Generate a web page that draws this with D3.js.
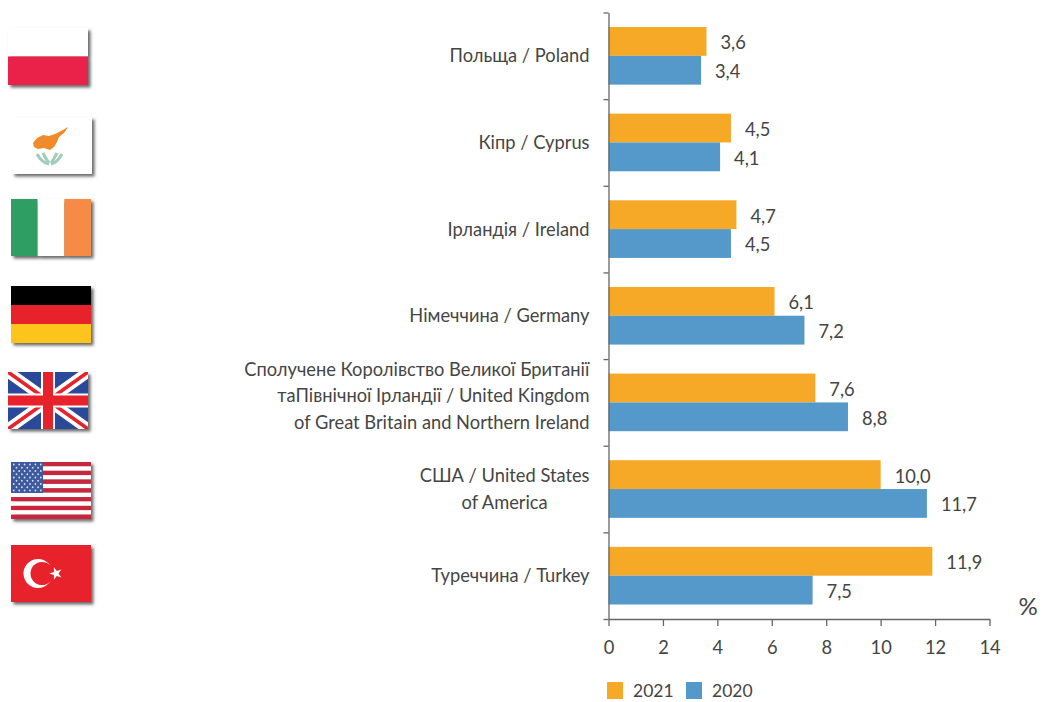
<!DOCTYPE html>
<html>
<head>
<meta charset="utf-8">
<script src="https://cdn.jsdelivr.net/npm/d3@7"></script>
<style>
html, body { margin: 0; padding: 0; background: #fff; }
svg { display: block; }
text { font-family: Lato, "Open Sans", sans-serif; fill: #454545; font-size: 18.3px; }
</style>
</head>
<body>
<svg></svg>
<script>
var width = 1058;
var height = 702;

var countries = ["Poland", "Cyprus", "Ireland", "Germany", "UK", "USA", "Turkey"];
var labels = [
    ["Польща / Poland"],
    ["Кіпр / Cyprus"],
    ["Ірландія / Ireland"],
    ["Німеччина / Germany"],
    ["Сполучене Королівство Великої Британії", "таПівнічної Ірландії / United Kingdom", "of Great Britain and Northern Ireland"],
    ["США / United States", "of America"],
    ["Туреччина / Turkey"]
];
var values2021 = [3.6, 4.5, 4.7, 6.1, 7.6, 10.0, 11.9];
var values2020 = [3.4, 4.1, 4.5, 7.2, 8.8, 11.7, 7.5];
var years = ["2021", "2020"];
var yearColors = ["#f5a926", "#5599cb"];
var xTicks = [0, 2, 4, 6, 8, 10, 12, 14];

var margin = { top: 12.5, left: 608.5, right: 68.5, bottom: 83 };
var innerW = width - margin.left - margin.right;
var innerH = height - margin.top - margin.bottom;

var svg = d3.select("svg")
            .attr("width", width)
            .attr("height", height);

var defs = svg.append("defs");
var shadow = defs.append("filter")
    .attr("id", "flagShadow")
    .attr("x", "-10%").attr("y", "-10%")
    .attr("width", "125%").attr("height", "130%");
shadow.append("feGaussianBlur").attr("in", "SourceGraphic").attr("stdDeviation", 0.5).attr("result", "soft");
shadow.append("feDropShadow")
    .attr("in", "soft")
    .attr("dx", 2.5).attr("dy", 2.5)
    .attr("stdDeviation", 1.5)
    .attr("flood-color", "#444")
    .attr("flood-opacity", 0.8);

var x = d3.scaleLinear().domain([0, 14]).range([0, innerW]);
var y = d3.scaleBand().domain(countries).range([0, innerH]);
var yEdges = d3.scaleLinear().domain([0, countries.length]).range([0, innerH]);
var barPad = 14.5;
var ySub = d3.scaleBand().domain(years).range([barPad, y.bandwidth() - barPad]);

var chart = svg.append("g")
    .attr("transform", "translate(" + margin.left + "," + margin.top + ")");

// bars
[values2021, values2020].forEach(function(vals, i) {
    chart.append("g").selectAll("rect")
        .data(vals)
        .enter().append("rect")
            .attr("x", 0)
            .attr("y", (d, j) => y(countries[j]) + ySub(years[i]))
            .attr("width", d => x(d))
            .attr("height", ySub.bandwidth())
            .attr("fill", yearColors[i]);

    chart.append("g").selectAll("text")
        .data(vals)
        .enter().append("text")
            .attr("x", d => x(d) + 14)
            .attr("y", (d, j) => y(countries[j]) + ySub(years[i]) + ySub.bandwidth() / 2 + 1.5)
            .attr("dy", "0.35em")
            .text(d => d.toFixed(1).replace(".", ","));
});

// axes
var xAxis = chart.append("g")
    .attr("transform", "translate(0," + innerH + ")")
    .call(d3.axisBottom(x).tickValues(xTicks).tickSize(7).tickPadding(15).tickSizeOuter(0));
var yAxis = chart.append("g")
    .call(d3.axisLeft(yEdges).tickValues(d3.range(countries.length + 1)).tickFormat("").tickSize(5).tickSizeOuter(0));

[xAxis, yAxis].forEach(function(a) {
    a.selectAll("path, line").attr("stroke", "#666").attr("stroke-width", 1.3);
});
xAxis.selectAll("text").attr("fill", null);
xAxis.attr("font-family", null).attr("font-size", null);

// category labels
var lineH = 26.7;
var labelG = chart.append("g").selectAll("g")
    .data(labels)
    .enter().append("g")
        .attr("transform", (d, i) => "translate(-19," + (y(countries[i]) + y.bandwidth() / 2) + ")");

labelG.each(function(lines) {
    var g = d3.select(this);
    // the three line label sits a little above its band centre
    var startY = lines.length === 3 ? -lineH - 6.5 : -(lines.length - 1) * lineH / 2;
    var texts = g.selectAll("text")
        .data(lines)
        .enter().append("text")
            .attr("x", 0)
            .attr("y", (d, i) => startY + i * lineH)
            .attr("dy", "0.35em")
            .attr("text-anchor", "end")
            .text(d => d);
    // two line label is centred in its block
    if (lines.length === 2) {
        var widest = d3.max(texts.nodes(), n => n.getComputedTextLength());
        texts.attr("x", -widest / 2).attr("text-anchor", "middle");
    }
});

// unit
svg.append("text")
    .attr("x", 1028).attr("y", 615)
    .attr("text-anchor", "middle")
    .style("font-size", "24px")
    .text("%");

// legend, kept just inside the bottom edge
var legend = svg.append("g").selectAll("g")
    .data(years)
    .enter().append("g")
        .attr("transform", (d, i) => "translate(" + (607 + i * 79) + ",682)");
legend.append("rect")
    .attr("width", 16).attr("height", 17)
    .attr("fill", (d, i) => yearColors[i]);
legend.append("text")
    .attr("x", 26).attr("y", 15)
    .style("font-size", "17.5px")
    .text(d => d);

// flags, each drawn in a 80x57 box
var flagPos = [[8, 28], [12, 117], [11, 199], [11, 286], [8, 372], [11, 462], [11, 545]];
var flagW = 80, flagH = 57;

defs.append("clipPath").attr("id", "flagClip")
    .append("rect").attr("width", flagW).attr("height", flagH);

function stripes(g, cols, vertical) {
    var s = d3.scaleBand().domain(d3.range(cols.length)).range([0, vertical ? flagW : flagH]);
    g.selectAll("rect.st").data(cols).enter().append("rect")
        .attr("x", (d, i) => vertical ? s(i) : 0)
        .attr("y", (d, i) => vertical ? 0 : s(i))
        .attr("width", vertical ? s.bandwidth() : flagW)
        .attr("height", vertical ? flagH : s.bandwidth())
        .attr("fill", d => d);
}

var flagDraw = {
    Poland: g => stripes(g, ["#ffffff", "#ea2148"], false),
    Cyprus: function(g) {
        stripes(g, ["#ffffff"], false);
        g.append("path").attr("fill", "#f08a2c")
            .attr("d", "M21,26 L25,21 L31,18 L37,19 L43,17 L49,14 L56,10 L52,16 L47,20 L45,25 L42,30 L38,33 L32,31 L26,32 L22,30 Z");
        g.append("path").attr("fill", "none").attr("stroke", "#a3cdbb").attr("stroke-width", 3)
            .attr("d", "M25,37 Q30,46 37,47 M50,37 Q45,46 39,47 M31,36 Q34,42 37,46 M45,36 Q42,42 39,46");
    },
    Ireland: g => stripes(g, ["#2f9e62", "#ffffff", "#f68b45"], true),
    Germany: g => stripes(g, ["#000000", "#e8202b", "#fdc41e"], false),
    UK: function(g) {
        var inner = g.append("g").attr("clip-path", "url(#flagClip)");
        inner.append("rect").attr("width", flagW).attr("height", flagH).attr("fill", "#2a4a9b");
        var cross = "M0,0 L" + flagW + "," + flagH + " M" + flagW + ",0 L0," + flagH;
        inner.append("path").attr("d", cross).attr("stroke", "#fff").attr("stroke-width", 11);
        inner.append("path").attr("d", cross).attr("stroke", "#e8202b").attr("stroke-width", 3.5);
        var plus = "M" + flagW / 2 + ",0 V" + flagH + " M0," + flagH / 2 + " H" + flagW;
        inner.append("path").attr("d", plus).attr("stroke", "#fff").attr("stroke-width", 14);
        inner.append("path").attr("d", plus).attr("stroke", "#e8202b").attr("stroke-width", 10);
    },
    USA: function(g) {
        stripes(g, d3.range(13).map(i => i % 2 ? "#ffffff" : "#c8283e"), false);
        g.append("rect").attr("width", 32).attr("height", 31).attr("fill", "#3c5a9f");
        d3.range(9).forEach(function(r) {
            d3.range(r % 2 ? 5 : 6).forEach(function(c) {
                g.append("circle")
                    .attr("cx", (r % 2 ? 5.5 : 2.8) + c * 5.4)
                    .attr("cy", 2.5 + r * 3.25)
                    .attr("r", 0.9)
                    .attr("fill", "#d8e0f0");
            });
        });
    },
    Turkey: function(g) {
        stripes(g, ["#e8202b"], false);
        g.append("circle").attr("cx", 27).attr("cy", 28.5).attr("r", 14.5).attr("fill", "#fff");
        g.append("circle").attr("cx", 31).attr("cy", 28.5).attr("r", 11.5).attr("fill", "#e8202b");
        g.append("path")
            .attr("d", d3.symbol().type(d3.symbolStar).size(50))
            .attr("transform", "translate(45,28.5) rotate(-18)")
            .attr("fill", "#fff");
    }
};

var flags = svg.append("g").selectAll("g")
    .data(countries)
    .enter().append("g")
        .attr("transform", (d, i) => "translate(" + flagPos[i][0] + "," + flagPos[i][1] + ")")
        .attr("filter", "url(#flagShadow)");
flags.each(function(d) { flagDraw[d](d3.select(this)); });
</script>
</body>
</html>
